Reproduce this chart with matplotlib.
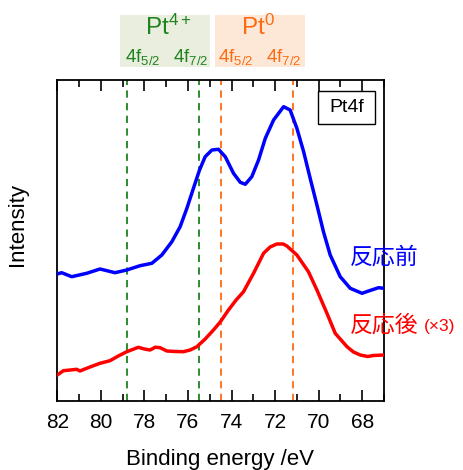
import matplotlib
matplotlib.use("Agg")
import matplotlib.pyplot as plt
from matplotlib.patches import Rectangle
from matplotlib.ticker import MultipleLocator

plt.rcParams['font.family'] = ['Liberation Sans', 'Noto Sans CJK JP', 'DejaVu Sans']
plt.rcParams['mathtext.fontset'] = 'custom'
plt.rcParams['mathtext.rm'] = 'Liberation Sans'
plt.rcParams['mathtext.it'] = 'Liberation Sans'
plt.rcParams['mathtext.default'] = 'rm'

# ---- data (binding energy / eV, intensity arb. units) ----
be_before = [82.00, 81.80, 81.34, 80.65, 80.04, 79.35, 78.81, 78.20, 77.66, 77.20,
             76.74, 76.36, 76.05, 75.75, 75.47, 75.21, 74.90, 74.60, 74.29, 73.91,
             73.60, 73.37, 73.07, 72.76, 72.45, 72.07, 71.61, 71.31, 71.00, 70.69,
             70.39, 70.08, 69.78, 69.47, 69.01, 68.55, 68.01, 67.71, 67.25, 67.00]
int_before = [127, 128.3, 124.3, 127.7, 132, 128.3, 131, 135.3, 137.7, 146,
              159.3, 174.3, 192.7, 212.7, 231, 244.3, 251, 251.7, 244.3, 227.7,
              218.7, 216.7, 224.3, 241, 262.7, 281, 294.3, 291, 272.7, 249.3,
              222.7, 196, 169.3, 146, 124.3, 112.7, 107.7, 110, 113.3, 112.7]

be_after = [82.00, 81.72, 81.40, 81.11, 80.96, 80.50, 80.04, 79.58, 79.20, 78.81,
            78.28, 78.00, 77.74, 77.50, 77.28, 76.97, 76.59, 76.21, 75.90, 75.59,
            75.21, 74.83, 74.52, 74.14, 73.79, 73.45, 72.99, 72.53, 72.23, 71.92,
            71.63, 71.46, 71.00, 70.47, 70.08, 69.62, 69.24, 68.70, 68.40, 68.09,
            67.75, 67.48, 67.00]
int_after = [26, 30.3, 31, 31.7, 30, 34, 37.7, 40.3, 45, 49.3,
             53.7, 52, 51, 53.8, 53.3, 50, 49.5, 49.3, 51, 54.3,
             62, 71, 79, 91, 101, 109.3, 127.7, 147.7, 154, 157,
             157, 155, 146, 129.3, 111, 87.7, 67.7, 54.3, 49, 46,
             44.5, 45.5, 46]

pt4_lines = [78.8, 75.5]
pt0_lines = [74.5, 71.2]
xticks = [82, 80, 78, 76, 74, 72, 70, 68]

W, H = 463, 470
fig = plt.figure(figsize=(W / 100, H / 100), dpi=100)
ax = fig.add_axes([57.3 / W, 1 - 401 / H, (384 - 57.3) / W, (401 - 80) / H])

green = '#1e821e'
orange = '#ff6a10'

for x in pt4_lines:
    ax.axvline(x, color=green, lw=1.3, ls=(0, (4, 3)), zorder=1)
for x in pt0_lines:
    ax.axvline(x, color=orange, lw=1.3, ls=(0, (4, 3)), zorder=1)

ax.plot(be_before, int_before, color='#0000ff', lw=2.5, zorder=3,
        solid_joinstyle='round', solid_capstyle='round')
ax.plot(be_after, int_after, color='#ff0000', lw=2.5, zorder=3,
        solid_joinstyle='round', solid_capstyle='round')

ax.set_xlim(82, 67)
ax.set_ylim(0, 321)
ax.set_xticks(xticks)
ax.xaxis.set_minor_locator(MultipleLocator(1))
ax.set_yticks([])
ax.tick_params(axis='x', which='both', direction='in', top=True, bottom=True,
               labelsize=15, pad=9, width=1.2)
ax.tick_params(axis='x', which='major', length=8)
ax.tick_params(axis='x', which='minor', length=5)
for s in ax.spines.values():
    s.set_linewidth(1.3)

fig.text(220 / W, 1 - 460 / H, 'Binding energy /eV', fontsize=16, ha='center', va='center')
fig.text(18 / W, 1 - 224 / H, 'Intensity', fontsize=16, rotation=90, ha='center', va='center')

# header boxes
fig.patches.append(Rectangle((120 / W, 1 - 67 / H), 90 / W, 52 / H,
                             transform=fig.transFigure, facecolor='#e9eede', edgecolor='none', zorder=0))
fig.patches.append(Rectangle((215 / W, 1 - 67 / H), 90 / W, 52 / H,
                             transform=fig.transFigure, facecolor='#fde8d8', edgecolor='none', zorder=0))
fig.text(168 / W, 1 - 27 / H, r'Pt$^{4+}$', fontsize=17.5, color=green, ha='center', va='center')
fig.text(258 / W, 1 - 27 / H, r'Pt$^{0}$', fontsize=17.5, color=orange, ha='center', va='center')
for xc, lab, c in [(143, r'4f$_{5/2}$', green), (191, r'4f$_{7/2}$', green),
                   (236, r'4f$_{5/2}$', orange), (284, r'4f$_{7/2}$', orange)]:
    fig.text(xc / W, 1 - 57 / H, lab, fontsize=13.5, color=c, ha='center', va='center')

# Pt4f label box
fig.patches.append(Rectangle((318 / W, 1 - 124 / H), 57 / W, 33 / H, transform=fig.transFigure,
                             facecolor='white', edgecolor='black', lw=1, zorder=5))
fig.text(346.5 / W, 1 - 107.5 / H, 'Pt4f', fontsize=14, ha='center', va='center', zorder=6)

fig.text(350 / W, 1 - 257 / H, '反応前', fontsize=16.5, color='#0000ff', ha='left', va='center')
fig.text(350 / W, 1 - 325 / H, '反応後', fontsize=16.5, color='#ff0000', ha='left', va='center')
fig.text(424 / W, 1 - 326 / H, '(×3)', fontsize=12.5, color='#ff0000', ha='left', va='center')

fig.savefig('out.png', dpi=100)
